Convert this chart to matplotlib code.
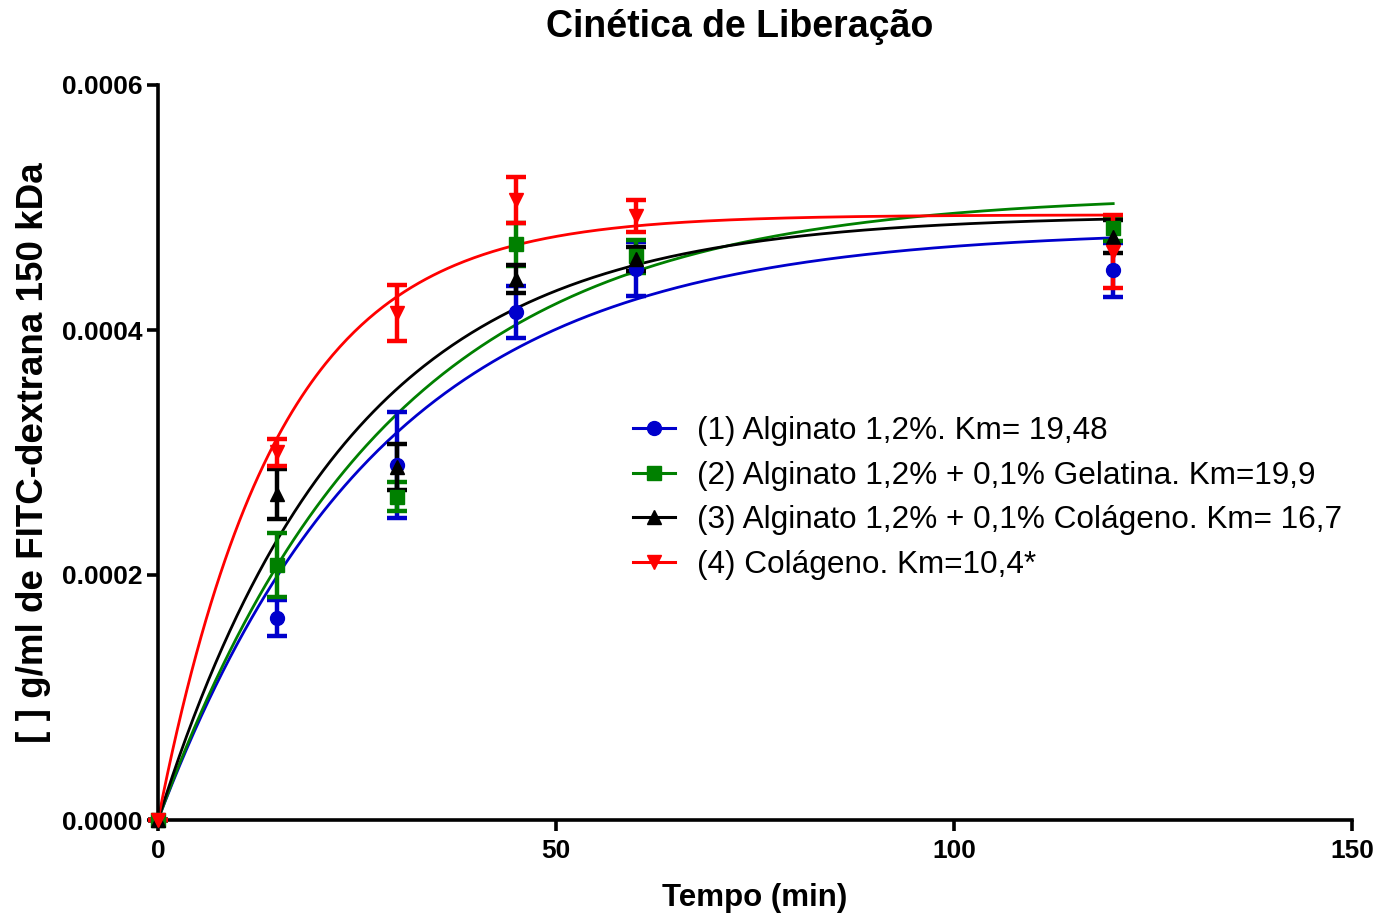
import numpy as np
import matplotlib
matplotlib.use("Agg")
import matplotlib.pyplot as plt

plt.rcParams['font.family'] = ['Liberation Sans', 'DejaVu Sans']

# ---- data ----
time_min = [0, 15, 30, 45, 60, 120]

labels = ["(1) Alginato 1,2%. Km= 19,48",
          "(2) Alginato 1,2% + 0,1% Gelatina. Km=19,9",
          "(3) Alginato 1,2% + 0,1% Colágeno. Km= 16,7",
          "(4) Colágeno. Km=10,4*"]

mean_alg = [0.0, 0.000165, 0.000290, 0.000415, 0.000450, 0.000449]
err_alg = [0.0, 0.0000147, 0.0000433, 0.0000212, 0.0000220, 0.0000220]

mean_gel = [0.0, 0.000208, 0.000264, 0.000470, 0.000460, 0.000483]
err_gel = [0.0, 0.0000260, 0.0000120, 0.0000176, 0.0000135, 0.0000100]

mean_colag_alg = [0.0, 0.000266, 0.000288, 0.000442, 0.000458, 0.000476]
err_colag_alg = [0.0, 0.0000204, 0.0000188, 0.0000114, 0.0000100, 0.0000135]

mean_colag = [0.0, 0.000300, 0.000414, 0.000506, 0.000493, 0.000464]
err_colag = [0.0, 0.0000114, 0.0000229, 0.0000188, 0.0000130, 0.0000300]

# one-phase association fit parameters (half-time in min, plateau)
half_time = [19.48, 19.9, 16.7, 10.4]
plateau = [0.000482, 0.000511, 0.000494, 0.000494]

colors = ['#0000CC', '#008000', '#000000', '#FF0000']
markers = ['o', 's', '^', 'v']

means = [mean_alg, mean_gel, mean_colag_alg, mean_colag]
errs = [err_alg, err_gel, err_colag_alg, err_colag]

# ---- figure ----
W, H = 1392, 913
fig = plt.figure(figsize=(W / 100, H / 100), dpi=100)
ax = fig.add_axes([158 / W, (H - 820) / H, (1352 - 158) / W, (820 - 85) / H])

xfit = np.linspace(0, max(time_min), 400)
handles = []
for m, e, th, p, c, mk, lab in zip(means, errs, half_time, plateau, colors, markers, labels):
    k = np.log(2) / th
    ax.plot(xfit, p * (1 - np.exp(-k * xfit)), color=c, lw=2.0, zorder=2)
    eb = ax.errorbar(time_min, m, yerr=e, fmt=mk, color=c, ms=10,
                     elinewidth=3.2, capsize=7.5, capthick=3.2, zorder=3,
                     clip_on=False)
    h, = ax.plot([], [], color=c, lw=2.2, marker=mk, ms=10, label=lab)
    handles.append(h)

ax.set_xlim(0, 150)
ax.set_ylim(0, 0.0006)
ax.set_xticks([0, 50, 100, 150])
ax.set_yticks([0, 0.0002, 0.0004, 0.0006])
ax.set_yticklabels(['0.0000', '0.0002', '0.0004', '0.0006'])

for s in ['top', 'right']:
    ax.spines[s].set_visible(False)
for s in ['left', 'bottom']:
    ax.spines[s].set_linewidth(2.6)
ax.tick_params(axis='both', direction='out', length=8, width=2.6, labelsize=19, pad=3)
ax.tick_params(axis='x', pad=6)
for t in ax.get_xticklabels() + ax.get_yticklabels():
    t.set_fontweight('bold')

ax.set_xlabel('Tempo (min)', fontsize=22.5, fontweight='bold', labelpad=14)
ax.set_ylabel('[ ] g/ml de FITC-dextrana 150 kDa', fontsize=26.5, fontweight='bold', labelpad=8)
fig.text((547 + 932) / 2 / W, 1 - 27 / H, 'Cinética de Liberação', ha='center', va='center',
         fontsize=27, fontweight='bold')

leg = ax.legend(handles=handles, loc='center left',
                bbox_to_anchor=((633 - 158) / 1194, 1 - (498 - 85) / 735),
                frameon=False, fontsize=22.7, handlelength=1.33, handletextpad=0.7,
                labelspacing=0.46, borderaxespad=0, borderpad=0)

fig.savefig('out.png', dpi=100)
